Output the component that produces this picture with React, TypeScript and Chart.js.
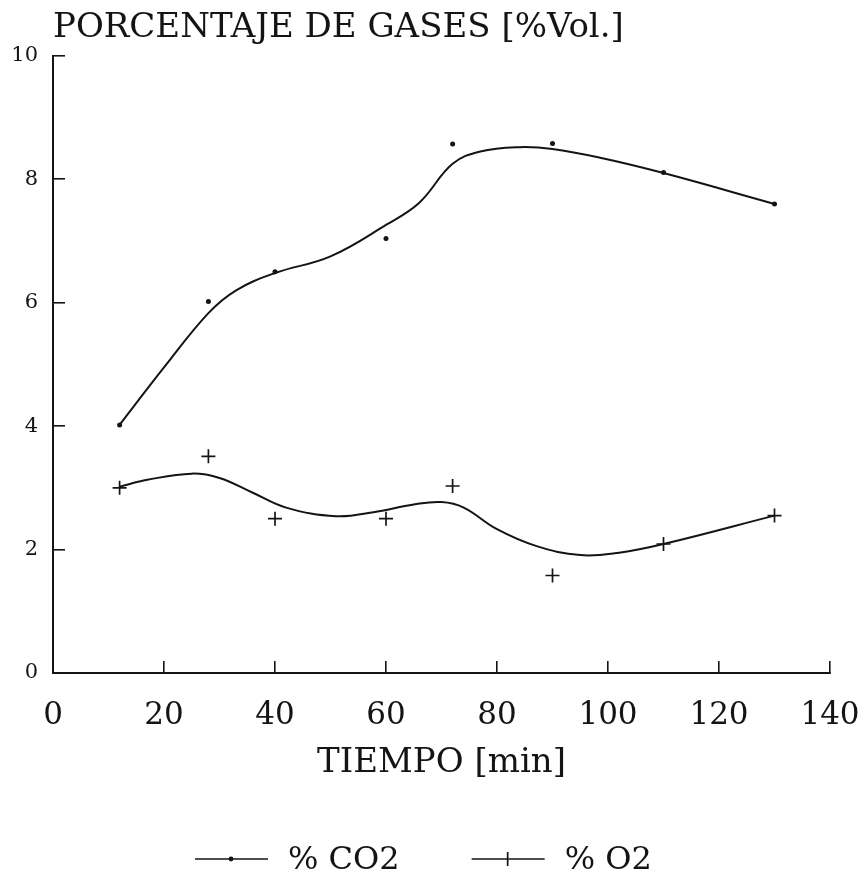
import React, { useEffect, useRef } from "react";
import { Chart, registerables } from "chart.js";

Chart.register(...registerables);

// ---- data ----
const timeMin = [12, 28, 40, 60, 72, 90, 110, 130];
const co2Measured = [4.02, 6.02, 6.5, 7.04, 8.57, 8.58, 8.11, 7.6];
const o2Measured = [3.0, 3.51, 2.5, 2.5, 3.03, 1.58, 2.09, 2.55];

// fitted curves
const co2CurveX = [12, 20, 28, 33, 40, 50, 60, 66, 72, 77, 84, 90, 99, 110, 130];
const co2CurveY = [4.02, 4.95, 5.83, 6.2, 6.48, 6.75, 7.26, 7.62, 8.25, 8.45, 8.52, 8.49, 8.34, 8.1, 7.6];
const o2CurveX = [12, 17, 25, 30, 36, 42, 51, 58, 65, 70, 74, 80, 87, 95, 102, 110, 130];
const o2CurveY = [3.02, 3.13, 3.23, 3.16, 2.92, 2.68, 2.54, 2.61, 2.73, 2.77, 2.68, 2.33, 2.06, 1.91, 1.95, 2.09, 2.55];

const seriesLabels = ["% CO2", "% O2"];
const xRange = [0, 140];
const xStep = 20;
const yRange = [0, 10];
const yStep = 2;
const titleText = "PORCENTAJE DE GASES [%Vol.]";
const xTitleText = "TIEMPO [min]";

const INK = "#141414";
const FONT = "'DejaVu Serif', 'Liberation Serif', serif";

const pairs = (xs: number[], ys: number[]) => xs.map((x, i) => ({ x, y: ys[i] }));

const legendPlugin = {
  id: "plotLegend",
  afterDraw(chart: any) {
    const ctx = chart.ctx as CanvasRenderingContext2D;
    const ca = chart.chartArea;
    const y = chart.height - 24;
    ctx.save();
    ctx.font = `32px ${FONT}`;
    ctx.fillStyle = INK;
    ctx.strokeStyle = INK;
    ctx.textBaseline = "middle";
    ctx.textAlign = "left";
    let x = ca.left + 142;
    seriesLabels.forEach((label, i) => {
      ctx.lineWidth = 1.7;
      ctx.beginPath();
      ctx.moveTo(x, y);
      ctx.lineTo(x + 73, y);
      ctx.stroke();
      const mx = x + 36;
      if (i === 0) {
        ctx.beginPath();
        ctx.arc(mx, y, 2.4, 0, Math.PI * 2);
        ctx.fill();
      } else {
        ctx.beginPath();
        ctx.moveTo(mx, y - 7);
        ctx.lineTo(mx, y + 7);
        ctx.stroke();
      }
      ctx.fillText(label, x + 93, y + 2);
      x += 93 + ctx.measureText(label).width + 72;
    });
    ctx.restore();
  },
};

export default function App() {
  const ref = useRef<HTMLCanvasElement | null>(null);

  useEffect(() => {
    if (!ref.current) return;
    const chart = new Chart(ref.current, {
      type: "scatter",
      data: {
        datasets: [
          {
            label: seriesLabels[0] + " curve",
            data: pairs(co2CurveX, co2CurveY),
            showLine: true,
            tension: 0.4,
            borderColor: INK,
            borderWidth: 2,
            pointRadius: 0,
            fill: false,
          },
          {
            label: seriesLabels[1] + " curve",
            data: pairs(o2CurveX, o2CurveY),
            showLine: true,
            tension: 0.4,
            borderColor: INK,
            borderWidth: 2,
            pointRadius: 0,
            fill: false,
          },
          {
            label: seriesLabels[0],
            data: pairs(timeMin, co2Measured),
            showLine: false,
            pointStyle: "circle",
            pointRadius: 2.5,
            backgroundColor: INK,
            borderColor: INK,
            borderWidth: 0,
          },
          {
            label: seriesLabels[1],
            data: pairs(timeMin, o2Measured),
            showLine: false,
            pointStyle: "cross",
            pointRadius: 7,
            backgroundColor: INK,
            borderColor: INK,
            borderWidth: 1.7,
          },
        ],
      },
      options: {
        animation: false,
        responsive: false,
        devicePixelRatio: 1,
        layout: { padding: { left: 0, right: 38, top: 0, bottom: 99 } },
        plugins: {
          legend: { display: false },
          tooltip: { enabled: false },
          title: {
            display: true,
            text: titleText,
            align: "start",
            fullSize: false,
            color: INK,
            font: { family: FONT, size: 34, weight: "normal" },
            padding: { top: 8, bottom: 7 },
          },
        },
        scales: {
          x: {
            type: "linear",
            min: xRange[0],
            max: xRange[1],
            ticks: {
              stepSize: xStep,
              color: INK,
              font: { family: FONT, size: 31 },
              padding: 36,
            },
            grid: {
              drawOnChartArea: false,
              drawTicks: true,
              tickLength: -12,
              color: INK,
              lineWidth: 1.6,
            },
            border: { display: true, color: INK, width: 2 },
            title: {
              display: true,
              text: xTitleText,
              color: INK,
              font: { family: FONT, size: 34 },
              padding: { top: 0, bottom: 0 },
            },
            afterFit: (s: any) => {
              s.height = 111;
              s.paddingLeft = 0;
              s.paddingRight = 0;
            },
          },
          y: {
            type: "linear",
            min: yRange[0],
            max: yRange[1],
            ticks: {
              stepSize: yStep,
              color: INK,
              font: { family: FONT, size: 21 },
              padding: 27,
            },
            grid: {
              drawOnChartArea: false,
              drawTicks: true,
              tickLength: -12,
              color: INK,
              lineWidth: 1.6,
            },
            border: { display: true, color: INK, width: 2 },
            afterFit: (s: any) => {
              s.width = 53;
              s.paddingTop = 0;
              s.paddingBottom = 0;
            },
          },
        },
      },
      plugins: [legendPlugin],
    } as any);
    return () => chart.destroy();
  }, []);

  return (
    <div style={{ position: "absolute", left: 0, top: 0, width: 868, height: 883, background: "#fff" }}>
      <canvas ref={ref} width={868} height={883} />
    </div>
  );
}
